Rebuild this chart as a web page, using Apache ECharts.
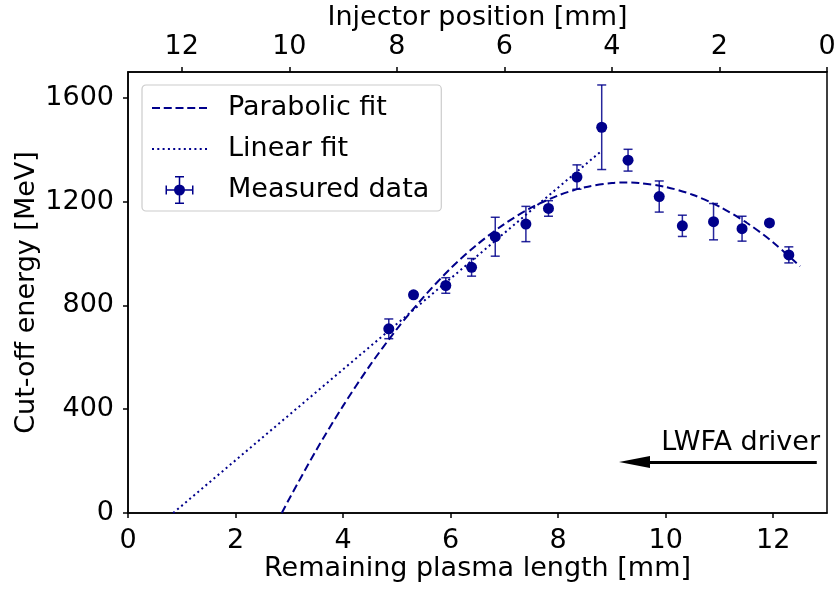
<!DOCTYPE html>
<html><head><meta charset="utf-8">
<script src="https://cdn.jsdelivr.net/npm/echarts@6/dist/echarts.min.js"></script>
<style>html,body{margin:0;padding:0;background:#fff}#c{width:836px;height:590px}</style>
</head><body><div id="c"></div>
<script>
// Measured data
const lengthMM  = [4.85, 5.31, 5.91, 6.39, 6.83, 7.40, 7.82, 8.35, 8.81, 9.30, 9.88, 10.31, 10.89, 11.42, 11.93, 12.29];
const energy    = [710, 841, 877, 947, 1065, 1114, 1174, 1295, 1487, 1360, 1220, 1107, 1123, 1096, 1118, 995];
const energyErr = [38, 10, 30, 34, 75, 68, 30, 47, 163, 42, 60, 41, 70, 48, 10, 31];
// Fit curves
const parabolicX = [2.86, 3.0, 3.5, 4.0, 4.5, 5.0, 5.5, 6.0, 6.5, 7.0, 7.5, 8.0, 8.5, 9.0, 9.27, 9.5, 10.0, 10.5, 11.0, 11.5, 12.0, 12.5];
const parabolicY = [0, 55, 242, 413, 569, 709, 833, 943, 1036, 1114, 1177, 1224, 1256, 1272, 1274, 1272, 1257, 1227, 1181, 1120, 1043, 951];
const linearX = [0.84, 8.79];
const linearY = [0, 1393];
// Ticks
const bottomTicks = [0, 2, 4, 6, 8, 10, 12];
const topTicks = [0, 2, 4, 6, 8, 10, 12];
const energyTicks = [0, 400, 800, 1200, 1600];
// Annotation
const arrowFrom = [12.81, 197];
const arrowTo = [9.42, 197];
const annotationText = 'LWFA driver';
const annotationAt = [12.87, 269];

const BLUE = '#00008b';
const FONT = 'DejaVu Sans';
const FS = 27;

const pairs = (xs, ys) => xs.map((x, i) => [x, ys[i]]);
const errData = lengthMM.map((x, i) => [x, energy[i], energy[i] - energyErr[i], energy[i] + energyErr[i]]);

function rect(x1, y1, x2, y2) { return 'M' + x1 + ' ' + y1 + ' L' + x2 + ' ' + y1 + ' L' + x2 + ' ' + y2 + ' L' + x1 + ' ' + y2 + ' Z '; }
let dashedIcon = 'path://M0 0 M55 28 ';
for (let i = 0; i < 5; i++) dashedIcon += rect(i * 11.75, 13, i * 11.75 + 8, 15);
let dottedIcon = 'path://M0 0 M55 28 ';
for (let i = 0; i < 11; i++) dottedIcon += rect(i * 5.3, 13, i * 5.3 + 2, 15);
const measuredIcon = 'path://M0 0 M55 28 ' +
  rect(26.75, 0, 28.25, 28) + rect(13.5, 13.25, 41.5, 14.75) +
  rect(23, 0, 32, 1.5) + rect(23, 26.5, 32, 28) +
  rect(13.5, 9.5, 15, 18.5) + rect(40, 9.5, 41.5, 18.5) +
  'M33 14 A5.5 5.5 0 1 1 22 14 A5.5 5.5 0 1 1 33 14 Z';

const chart = echarts.init(document.getElementById('c'), null, {renderer: 'canvas'});
const axisText = {color: '#000', fontFamily: FONT, fontSize: FS};
chart.setOption({
  animation: false,
  backgroundColor: '#fff',
  textStyle: {fontFamily: FONT},
  grid: {left: 128, right: 9, top: 72, bottom: 77, outerBoundsMode: 'none', containLabel: false,
         show: true, borderColor: '#000', borderWidth: 1.5, backgroundColor: 'transparent'},
  legend: {
    orient: 'vertical', left: 142, top: 85,
    itemWidth: 55, itemHeight: 28, itemGap: 11, itemTextGap: 22,
    padding: [8, 12, 6, 10],
    backgroundColor: 'rgba(255,255,255,0.8)', borderColor: '#cccccc', borderWidth: 1.2, borderRadius: 4,
    textStyle: {color: '#000', fontFamily: FONT, fontSize: FS, lineHeight: 30, padding: [0, 0, 0, 16]},
    data: [
      {name: 'Parabolic fit', icon: dashedIcon},
      {name: 'Linear fit', icon: dottedIcon},
      {name: 'Measured data', icon: measuredIcon}
    ]
  },
  xAxis: [{
    type: 'value', position: 'bottom', min: 0, max: 13,
    name: 'Remaining plasma length [mm]', nameLocation: 'middle', nameGap: 42, nameMoveOverlap: false,
    nameTextStyle: axisText,
    axisLine: {onZero: false, lineStyle: {color: '#000', width: 1.5}},
    axisTick: {show: true, length: 5, lineStyle: {color: '#000', width: 1.5}, customValues: bottomTicks},
    axisLabel: Object.assign({margin: 14, customValues: bottomTicks, formatter: v => String(v)}, axisText),
    splitLine: {show: false}
  }, {
    type: 'value', position: 'top', min: 0, max: 13, inverse: true,
    name: 'Injector position [mm]', nameLocation: 'middle', nameGap: 41, nameMoveOverlap: false,
    nameTextStyle: axisText,
    axisLine: {onZero: false, lineStyle: {color: '#000', width: 1.5}},
    axisTick: {show: true, length: 5, lineStyle: {color: '#000', width: 1.5}, customValues: topTicks},
    axisLabel: Object.assign({margin: 12, customValues: topTicks, formatter: v => String(v)}, axisText),
    splitLine: {show: false}
  }],
  yAxis: {
    type: 'value', min: 0, max: 1700,
    name: 'Cut-off energy [MeV]', nameLocation: 'middle', nameGap: 88, nameMoveOverlap: false,
    nameTextStyle: axisText,
    axisLine: {onZero: false, lineStyle: {color: '#000', width: 1.5}},
    axisTick: {show: true, length: 5, lineStyle: {color: '#000', width: 1.5}, customValues: energyTicks},
    axisLabel: Object.assign({margin: 14, customValues: energyTicks, formatter: v => String(v)}, axisText),
    splitLine: {show: false}
  },
  series: [{
    name: 'Parabolic fit', type: 'line', xAxisIndex: 0, showSymbol: false, symbol: 'none',
    data: pairs(parabolicX, parabolicY), smooth: 0.3,
    itemStyle: {color: BLUE},
    lineStyle: {color: BLUE, width: 2, type: [8, 4]}, z: 3
  }, {
    name: 'Linear fit', type: 'line', xAxisIndex: 0, showSymbol: false, symbol: 'none',
    data: pairs(linearX, linearY),
    itemStyle: {color: BLUE},
    lineStyle: {color: BLUE, width: 2, type: [2, 3.3]}, z: 3
  }, {
    name: 'Measured data', type: 'custom', xAxisIndex: 0,
    itemStyle: {color: BLUE},
    data: errData,
    encode: {x: 0, y: 1},
    renderItem: function (params, api) {
      const x = api.value(0);
      const c = api.coord([x, api.value(1)]);
      const lo = api.coord([x, api.value(2)]);
      const hi = api.coord([x, api.value(3)]);
      const w = 4.5;
      const st = {stroke: BLUE, lineWidth: 1.5, opacity: 0.85};
      return {type: 'group', children: [
        {type: 'line', shape: {x1: c[0], y1: lo[1], x2: c[0], y2: hi[1]}, style: st},
        {type: 'line', shape: {x1: c[0] - w, y1: lo[1], x2: c[0] + w, y2: lo[1]}, style: st},
        {type: 'line', shape: {x1: c[0] - w, y1: hi[1], x2: c[0] + w, y2: hi[1]}, style: st}
      ]};
    }, z: 4
  }, {
    name: 'Measured data', type: 'scatter', xAxisIndex: 0,
    data: pairs(lengthMM, energy), symbol: 'circle', symbolSize: 11,
    itemStyle: {color: BLUE, opacity: 1}, z: 5
  }, {
    name: 'annotation', type: 'line', xAxisIndex: 0, data: [],
    markLine: {
      silent: true, animation: false,
      symbol: ['none', 'triangle'], symbolSize: [12, 31],
      lineStyle: {color: '#000', width: 3, type: 'solid'},
      label: {show: false},
      data: [[{coord: arrowFrom}, {coord: arrowTo}]]
    },
    markPoint: {
      silent: true, animation: false, symbol: 'circle', symbolSize: 0,
      label: {show: true, position: 'left', distance: 0, formatter: annotationText, color: '#000', fontFamily: FONT, fontSize: FS},
      itemStyle: {color: 'transparent'},
      data: [{coord: annotationAt}]
    }
  }]
});
</script>
</body></html>
